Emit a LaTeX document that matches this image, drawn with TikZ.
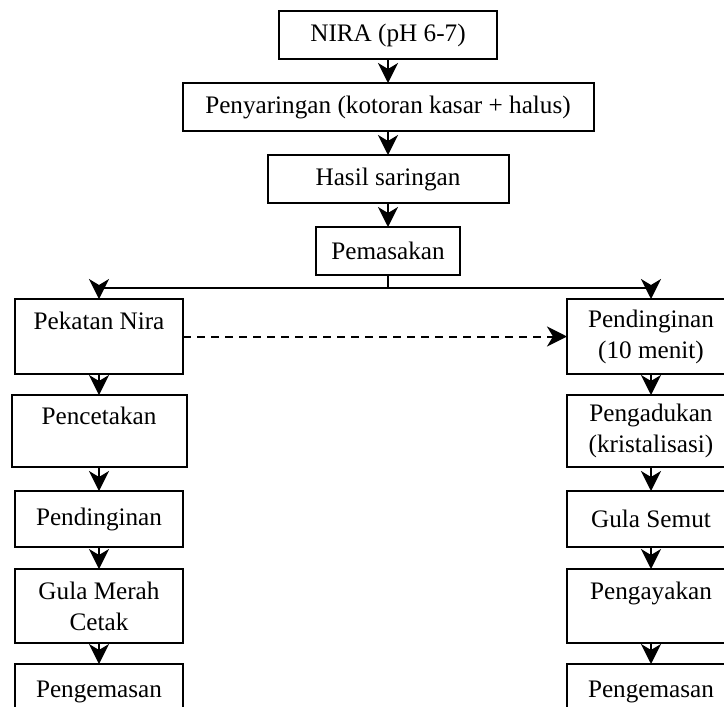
\documentclass[tikz,border=0pt]{standalone}
\usepackage{fontspec}
\setmainfont{Liberation Serif}
\usetikzlibrary{arrows.meta, positioning}

\begin{document}
\begin{tikzpicture}[x=0.5pt,y=-0.5pt,
  font=\fontsize{12.6}{15.5}\selectfont,
  box/.style={draw,line width=1pt,inner sep=0pt,outer sep=0pt,align=center,minimum height=24pt},
  col/.style={box,minimum width=84pt},
  arrow/.style={-{Stealth[length=10pt,width=10pt,inset=3pt]},line width=1pt}]
  \clip (0,0) rectangle (724,707);
  % alur utama
  \node[box,minimum width=109pt] (nira) at (388,35) {NIRA (pH 6-7)};
  \node[box,minimum width=205.5pt,below=12pt of nira] (saring) {Penyaringan (kotoran kasar + halus)};
  \node[box,minimum width=120.5pt,below=12pt of saring] (hasil) {Hasil saringan};
  \node[box,minimum width=72pt,below=12pt of hasil] (masak) {Pemasakan};
  \draw[arrow] (nira) -- (saring);
  \draw[arrow] (saring) -- (hasil);
  \draw[arrow] (hasil) -- (masak);
  \draw[line width=1pt] (masak.south) -- ++(0,13) coordinate (cabang);
  % gula merah cetak
  \node[col,minimum height=37.5pt,anchor=north] (pekatan) at (99,299) {Pekatan Nira\\~};
  \node[col,minimum width=87.5pt,minimum height=36pt,below=10.5pt of pekatan] (cetak) {Pencetakan\\~};
  \node[col,minimum height=28pt,below=12pt of cetak] (dinginL) {Pendinginan};
  \node[col,minimum height=37pt,below=11pt of dinginL] (merah) {Gula Merah\\Cetak};
  \node[col,minimum height=28pt,below=10.5pt of merah] (kemasL) {Pengemasan};
  % gula semut
  \node[col,minimum height=37.5pt,anchor=north] (dinginR) at (651,299) {Pendinginan\\(10 menit)};
  \node[col,minimum height=36pt,below=10.5pt of dinginR] (aduk) {Pengadukan\\(kristalisasi)};
  \node[col,minimum height=28pt,below=12pt of aduk] (semut) {Gula Semut};
  \node[col,minimum height=37pt,below=11pt of semut] (ayak) {Pengayakan\\~};
  \node[col,minimum height=28pt,below=10.5pt of ayak] (kemasR) {Pengemasan};
  \draw[arrow] (cabang) -| (pekatan.north);
  \draw[arrow] (cabang) -| (dinginR.north);
  \draw[arrow,dash pattern=on 4pt off 3pt] (pekatan) -- (dinginR);
  \draw[arrow] (pekatan) -- (cetak);
  \draw[arrow] (cetak) -- (dinginL);
  \draw[arrow] (dinginL) -- (merah);
  \draw[arrow] (merah) -- (kemasL);
  \draw[arrow] (dinginR) -- (aduk);
  \draw[arrow] (aduk) -- (semut);
  \draw[arrow] (semut) -- (ayak);
  \draw[arrow] (ayak) -- (kemasR);
\end{tikzpicture}
\end{document}
